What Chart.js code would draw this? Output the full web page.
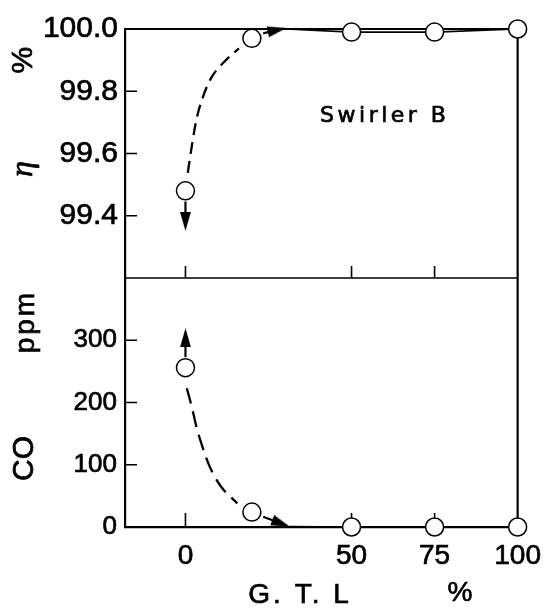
<!DOCTYPE html>
<html><head><meta charset="utf-8">
<script src="https://cdn.jsdelivr.net/npm/chart.js@4/dist/chart.umd.min.js"></script>
<style>html,body{margin:0;padding:0;background:#fff;overflow:hidden;}</style>
</head><body>
<canvas id="c" width="553" height="608" style="display:block;width:553px;height:608px"></canvas>
<script>
// ---- data ----
const gtl = [0, 20, 50, 75, 100];               // G.T.L %
const eta = [99.48, 99.97, 99.99, 99.99, 100.0]; // combustion efficiency %
const co  = [256, 24, 0, 0, 0];                  // CO ppm
const xTicks = [0, 50, 75, 100];
const etaTicks = [99.4, 99.6, 99.8, 100.0];
const coTicks = [0, 100, 200, 300];
// hand-drawn trend curves
const etaCurveX = [0.7, 1.9, 3.3, 5.3, 7.7, 11.7, 16.1];
const etaCurveY = [99.538, 99.623, 99.709, 99.783, 99.842, 99.895, 99.938];
const coCurveX = [0.4, 1.9, 3.3, 4.8, 7.3, 10.7, 15.6];
const coCurveY = [223, 193, 161, 134, 97, 65, 38];
// solid continuation lines (from arrow tip onwards)
const etaLineX = [30.3, 50, 75, 100];
const etaLineY = [100.0, 99.99, 99.99, 100.0];
const coLineX = [31.3, 50, 75, 100];
const coLineY = [0.5, 0, 0, 0];
// arrow shafts (start, head)
const etaDownX = [0, 0];        const etaDownY = [99.446, 99.382];
const etaRightX = [23.4, 27.6]; const etaRightY = [99.986, 99.997];
const coUpX = [0, 0];           const coUpY = [273, 304];
const coRightX = [23.4, 28.8];  const coRightY = [16.5, 5.6];

const pts = (xs, ys) => xs.map((x, i) => ({x, y: ys[i]}));

// arrowhead glyph (points up)
const arrowImg = document.createElement('canvas');
arrowImg.width = 11; arrowImg.height = 19;
(function(){ const g = arrowImg.getContext('2d'); g.fillStyle = '#000';
  g.beginPath(); g.moveTo(5.5, 0); g.lineTo(11, 19); g.lineTo(0, 19); g.closePath(); g.fill(); })();

function drawT(ctx, t, x, y, font, ls, rot) {
  ctx.save(); ctx.translate(x, y); if (rot) ctx.rotate(-Math.PI / 2);
  ctx.font = font; ctx.letterSpacing = ls || '0px';
  ctx.textAlign = 'center'; ctx.textBaseline = 'middle';
  ctx.fillStyle = '#000'; ctx.strokeStyle = '#000'; ctx.lineWidth = 0.7;
  ctx.fillText(t, 0, 0); ctx.strokeText(t, 0, 0); ctx.restore();
}

const framePlugin = {
  id: 'frame',
  beforeDatasetsDraw(chart) {
    const {ctx, chartArea: a, scales} = chart;
    const x = scales.x, yt = scales.yTop, yb = scales.yBot;
    ctx.save();
    ctx.strokeStyle = '#000';
    ctx.lineWidth = 2.2;
    ctx.beginPath();
    ctx.moveTo(a.left, a.top); ctx.lineTo(a.right, a.top);
    ctx.moveTo(a.right, a.top); ctx.lineTo(a.right, a.bottom);
    ctx.stroke();
    ctx.lineWidth = 1.6;
    ctx.beginPath();
    ctx.moveTo(a.left, yt.bottom); ctx.lineTo(a.right, yt.bottom);
    const TL = 12;
    etaTicks.forEach(v => { if (v < yt.max) { const p = yt.getPixelForValue(v); ctx.moveTo(a.left, p); ctx.lineTo(a.left + TL, p); } });
    coTicks.forEach(v => { if (v > yb.min) { const p = yb.getPixelForValue(v); ctx.moveTo(a.left, p); ctx.lineTo(a.left + TL, p); } });
    xTicks.forEach(v => { if (v < x.max) { const p = x.getPixelForValue(v);
      ctx.moveTo(p, yt.bottom); ctx.lineTo(p, yt.bottom - TL);
      ctx.moveTo(p, a.bottom); ctx.lineTo(p, a.bottom - 14); } });
    ctx.stroke();
    ctx.restore();
  },
  afterDraw(chart) {
    const {ctx, scales} = chart;
    const x = scales.x, yt = scales.yTop, yb = scales.yBot;
    drawT(ctx, '%', 24, yt.getPixelForValue(99.9), '30px "Liberation Sans"', '0px', true);
    drawT(ctx, 'η', 24, yt.getPixelForValue(99.55), 'italic 32px "Liberation Serif"', '0px', true);
    drawT(ctx, 'ppm', 26, yb.getPixelForValue(330), '28px "Liberation Sans"', '3px', true);
    drawT(ctx, 'CO', 25, yb.getPixelForValue(110), '30px "Liberation Sans"', '0px', true);
    drawT(ctx, 'Swirler B', x.getPixelForValue(60), yt.getPixelForValue(99.72), '22px "DejaVu Sans"', '3.5px');
    drawT(ctx, 'G. T. L', x.getPixelForValue(34.5), 595, '28px "Liberation Sans"', '3px');
    drawT(ctx, '%', x.getPixelForValue(82.6), 593, '28px "Liberation Sans"');
  }
};

const circleStyle = { showLine: false, pointRadius: 9, pointBackgroundColor: '#fff',
  pointBorderColor: '#000', pointBorderWidth: 1.5, clip: false };
const lineStyle = { showLine: true, pointRadius: 0, borderColor: '#000', borderWidth: 1.7, clip: false };
const shaftStyle = { showLine: true, pointRadius: [0, 9], pointStyle: arrowImg,
  borderColor: '#000', borderWidth: 2.2, clip: false };
const dashStyle = { showLine: true, pointRadius: 0, borderColor: '#000', borderWidth: 2.3,
  cubicInterpolationMode: 'monotone', clip: false };
const tickFont = size => ({ font: { family: 'Liberation Sans', size }, color: '#000',
  textStrokeColor: '#000', textStrokeWidth: 0.7 });

new Chart(document.getElementById('c'), {
  type: 'scatter',
  data: { datasets: [
    Object.assign({ data: pts(gtl, eta), yAxisID: 'yTop' }, circleStyle),
    Object.assign({ data: pts(gtl, co), yAxisID: 'yBot' }, circleStyle),
    Object.assign({ data: pts(etaDownX, etaDownY), yAxisID: 'yTop', pointRotation: 180 }, shaftStyle),
    Object.assign({ data: pts(etaRightX, etaRightY), yAxisID: 'yTop', pointRotation: 78 }, shaftStyle),
    Object.assign({ data: pts(coUpX, coUpY), yAxisID: 'yBot', pointRotation: 0 }, shaftStyle),
    Object.assign({ data: pts(coRightX, coRightY), yAxisID: 'yBot', pointRotation: 110.6 }, shaftStyle),
    Object.assign({ data: pts(etaLineX, etaLineY), yAxisID: 'yTop' }, lineStyle),
    Object.assign({ data: pts(coLineX, coLineY), yAxisID: 'yBot' }, lineStyle),
    Object.assign({ data: pts(etaCurveX, etaCurveY), yAxisID: 'yTop', borderDash: [12, 7] }, dashStyle),
    Object.assign({ data: pts(coCurveX, coCurveY), yAxisID: 'yBot', borderDash: [16, 8] }, dashStyle)
  ]},
  options: {
    responsive: false, animation: false, devicePixelRatio: 1,
    layout: { padding: { top: 29, right: 26, left: 0, bottom: 0 } },
    plugins: { legend: { display: false }, tooltip: { enabled: false } },
    scales: {
      x: { type: 'linear', position: 'bottom', min: -18.2, max: 100,
        afterBuildTicks: s => { s.ticks = xTicks.map(v => ({ value: v })); },
        afterFit: s => { s.height = 81; },
        grid: { display: false, drawTicks: false },
        border: { display: true, width: 2.2, color: '#000' },
        ticks: Object.assign(tickFont(28), { padding: 12, maxRotation: 0, autoSkip: false,
          callback: v => String(v) }) },
      yBot: { type: 'linear', position: 'left', stack: 'panels', stackWeight: 1, min: 0, max: 400,
        afterBuildTicks: s => { s.ticks = coTicks.map(v => ({ value: v })); },
        afterFit: s => { s.width = 125; },
        grid: { display: false, drawTicks: false },
        border: { display: true, width: 2.2, color: '#000' },
        ticks: Object.assign(tickFont(26), { padding: 8, callback: v => String(v) }) },
      yTop: { type: 'linear', position: 'left', stack: 'panels', stackWeight: 1, min: 99.2, max: 100,
        afterBuildTicks: s => { s.ticks = etaTicks.map(v => ({ value: v })); },
        afterFit: s => { s.width = 125; },
        grid: { display: false, drawTicks: false },
        border: { display: true, width: 2.2, color: '#000' },
        ticks: Object.assign(tickFont(30), { padding: 7, callback: v => Number(v).toFixed(1) }) }
    }
  },
  plugins: [framePlugin]
});
</script>
</body></html>
